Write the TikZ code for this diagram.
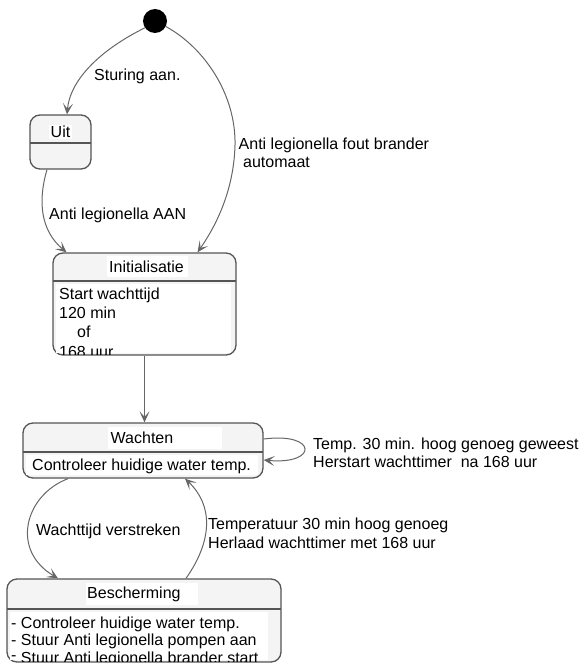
\documentclass[tikz,border=0pt]{standalone}
\usepackage{fontspec}
\setmainfont{Liberation Sans}
\usetikzlibrary{arrows.meta}
\definecolor{edge}{HTML}{555555}
\definecolor{wire}{HTML}{666666}
\definecolor{boxfill}{HTML}{F4F4F4}

\tikzset{
  statebox/.style={draw=edge, line width=1.3pt, rounded corners=10pt, fill=boxfill, inner sep=0pt},
  divider/.style={draw=edge, line width=1.2pt},
  paper/.style={fill=white},
  txt/.style={inner sep=0pt, font=\fontsize{16}{18.5}\selectfont},
  flow/.style={draw=wire, line width=1pt, -{Stealth[length=11pt,width=10pt,inset=5.5pt]}},
}

\begin{document}
\begin{tikzpicture}[x=1pt,y=-1pt]
\useasboundingbox (0,0) rectangle (579,663);

% initial pseudo state
\node[circle, fill=black, inner sep=0pt, minimum size=24pt] (start) at (155,21) {};

% state boxes
\node[statebox, minimum width=61pt,  minimum height=54pt]  (uit)    at (60.5,142)  {};
\node[statebox, minimum width=183pt, minimum height=102pt] (init)   at (144.5,304) {};
\node[statebox, minimum width=240pt, minimum height=55pt]  (wacht)  at (143,450.5) {};
\node[statebox, minimum width=274pt, minimum height=83pt]  (besch)  at (144,620.5) {};

% header / body separators
\draw[divider] (30,143) -- (91,143);
\draw[divider] (53,281) -- (236,281);
\draw[divider] (23,452) -- (263,452);
\draw[divider] (7,609) -- (281,609);

% white text panels
\fill[paper] (49,125) rectangle (72,139);
\fill[paper] (107,256) rectangle (188,277);
\fill[paper] (56,284) rectangle (231,353);
\fill[paper] (108,427) rectangle (222,449);
\fill[paper] (26,455) rectangle (258,475);
\fill[paper] (86,583) rectangle (198,605);
\fill[paper] (10,612) rectangle (268,660);

% state titles
\node[txt, anchor=base] (uitT) at (60.5,137.5) {Uit};
\node[txt, anchor=base west] (initT) at (109,272.5) {Initialisatie};
\node[txt, anchor=base west] (wachtT) at (110.5,443.5) {Wachten};
\node[txt, anchor=base west] (beschT) at (87,598.5) {Bescherming};

% state activities
\begin{scope}
  \clip (54,282) rectangle (235,354);
  \node[txt, anchor=base west] (initA) at (59,299) {Start wachttijd};
  \node[txt, anchor=base west] (initB) at (59,318) {120 min};
  \node[txt, anchor=base west] (initC) at (77,337) {of};
  \node[txt, anchor=base west] (initD) at (59,357.5) {168 uur};
\end{scope}
\node[txt, anchor=base west] (wachtA) at (32,470) {Controleer huidige water temp.};
\begin{scope}
  \clip (8,610) rectangle (280,661.5);
  \node[txt, anchor=base west] (beschA) at (11,628.3) {- Controleer huidige water temp.};
  \node[txt, anchor=base west] (beschB) at (11,645.8) {- Stuur Anti legionella pompen aan};
  \node[txt, anchor=base west] (beschC) at (11,663.3) {\raisebox{2.5pt}{-} Stuur Anti legionella brander start};
\end{scope}

% transitions
\draw[flow] (start.214) .. controls (100,50) and (70,80) .. ([xshift=6.5pt]uit.north);
\draw[flow] (start.333) .. controls (205,48) and (236,95) .. (235,145)
            .. controls (234,185) and (220,220) .. ([xshift=53pt]init.north);
\draw[flow] ([xshift=-13.5pt]uit.south) .. controls (38,200) and (40,230) .. ([xshift=-78pt]init.north);
\draw[flow] (init.south) -- (init.south |- wacht.north);
\draw[flow] ([yshift=11.5pt]wacht.east) .. controls (318,432) and (318,465) .. ([yshift=-9.5pt]wacht.east);
\draw[flow] ([xshift=-75pt]wacht.south) .. controls (25,495) and (10,550) .. ([xshift=-86pt]besch.north);
\draw[flow] ([xshift=42pt]besch.north) .. controls (213,540) and (213,505) .. ([xshift=42pt]wacht.south);

% transition labels
\node[txt, anchor=base west] (lSturing) at (94,81) {Sturing aan.};
\node[txt, anchor=base west] (lFout1) at (238.5,149.5) {Anti legionella fout brander};
\node[txt, anchor=base west] (lFout2) at (243,167.5) {automaat};
\node[txt, anchor=base west] (lAan) at (49,219) {Anti legionella AAN};
\node[txt, anchor=base west] (lLoop1) at (313,449) {Temp. 30 min. hoog genoeg geweest};
\node[txt, anchor=base west] (lLoop2) at (313,467.7) {Herstart wachttimer\ \ na 168 uur};
\node[txt, anchor=base west] (lVerstr) at (36,535.5) {Wachttijd verstreken};
\node[txt, anchor=base west] (lTemp1) at (208,529) {Temperatuur 30 min hoog genoeg};
\node[txt, anchor=base west] (lTemp2) at (208,548) {Herlaad wachttimer met 168 uur};
\end{tikzpicture}
\end{document}
